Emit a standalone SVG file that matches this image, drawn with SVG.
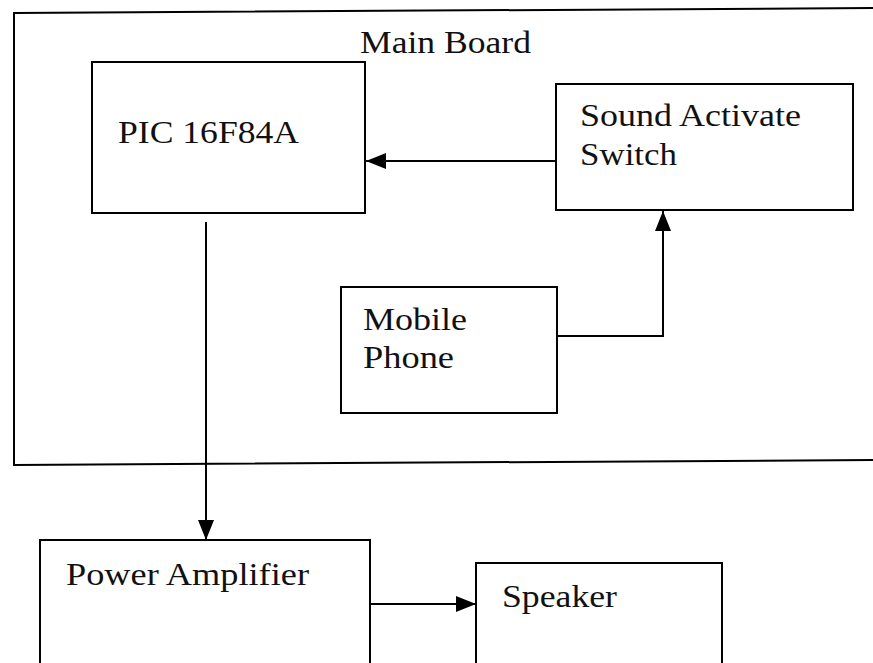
<svg xmlns="http://www.w3.org/2000/svg" width="873" height="663" viewBox="0 0 873 663">
<style>
.box{fill:none;stroke:#000;stroke-width:2}
.ln{fill:none;stroke:#000;stroke-width:2}
text{font-family:"Liberation Serif","Times New Roman",serif;font-size:31px;fill:#111}
</style>
<defs>
<marker id="ah" viewBox="0 0 10 10" refX="10" refY="5" markerWidth="10" markerHeight="8" markerUnits="userSpaceOnUse" orient="auto">
</marker>
<marker id="arr" viewBox="0 0 20 16" refX="20" refY="8" markerWidth="20" markerHeight="16" markerUnits="userSpaceOnUse" orient="auto">
<path d="M0,0 L20,8 L0,16 Z" fill="#000"/>
</marker>
</defs>
<rect width="873" height="663" fill="#fff"/>
<g id="mainboard">
<polyline class="box" points="875,8 14,13 14,465 875,460"/>
<text x="360" y="53" textLength="171" lengthAdjust="spacingAndGlyphs">Main Board</text>
</g>
<g id="pic">
<rect class="box" x="92" y="62" width="273" height="151"/>
<text x="118" y="143" textLength="181" lengthAdjust="spacingAndGlyphs">PIC 16F84A</text>
</g>
<g id="switch">
<rect class="box" x="556" y="84" width="297" height="126"/>
<text x="580" y="126" textLength="221" lengthAdjust="spacingAndGlyphs">Sound Activate</text>
<text x="580" y="165" textLength="97" lengthAdjust="spacingAndGlyphs">Switch</text>
</g>
<g id="phone">
<rect class="box" x="341" y="287" width="216" height="126"/>
<text x="363" y="330" textLength="104" lengthAdjust="spacingAndGlyphs">Mobile</text>
<text x="363" y="368" textLength="91" lengthAdjust="spacingAndGlyphs">Phone</text>
</g>
<g id="amp">
<rect class="box" x="40" y="540" width="330" height="130"/>
<text x="66" y="585" textLength="243" lengthAdjust="spacingAndGlyphs">Power Amplifier</text>
</g>
<g id="speaker">
<rect class="box" x="476" y="563" width="246" height="110"/>
<text x="502" y="607" textLength="115" lengthAdjust="spacingAndGlyphs">Speaker</text>
</g>
<g id="connectors">
<line class="ln" x1="556" y1="161" x2="366" y2="161" marker-end="url(#arr)"/>
<polyline class="ln" points="557,336 663,336 663,211" marker-end="url(#arr)"/>
<line class="ln" x1="206" y1="222" x2="206" y2="540" marker-end="url(#arr)"/>
<line class="ln" x1="370" y1="604" x2="476" y2="604" marker-end="url(#arr)"/>
</g>
</svg>
